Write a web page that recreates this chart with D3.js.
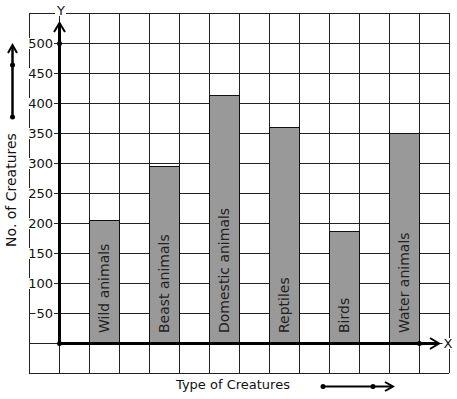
<!DOCTYPE html>
<html>
<head>
<meta charset="utf-8">
<script src="https://cdn.jsdelivr.net/npm/d3@7"></script>
<style>
  body { margin: 0; background: #fff; }
  text { font-family: "DejaVu Sans", sans-serif; font-size: 13px; }
</style>
</head>
<body>
<svg id="chart"></svg>
<script>
// dados do grafico
const creatures = ["Wild animals", "Beast animals", "Domestic animals", "Reptiles", "Birds", "Water animals"]
const counts = [205, 295, 413, 360, 187, 350]
const yTicks = [50, 100, 150, 200, 250, 300, 350, 400, 450, 500]

const width = 457
const height = 399

var svg = d3.select("#chart")
    .attr("width", width)
    .attr("height", height)

// escalas: a grade eh feita em "celulas" de 30px
var y = d3.scaleLinear().domain([0, 500]).range([343, 43])
var cell = d3.scaleLinear().domain([0, 14]).range([29, 449])
var x = d3.scaleBand()
    .domain(creatures)
    .range([89, 419])
    .paddingInner(0.5)
    .paddingOuter(0)

// grade
var grade = svg.append("g")
    .attr("stroke", "#222")
    .attr("stroke-width", 1)
    .attr("shape-rendering", "crispEdges")

grade.selectAll("line.v")
    .data(d3.range(0, 15))
    .join("line")
    .attr("class", "v")
    .attr("x1", d => cell(d) + 0.5).attr("x2", d => cell(d) + 0.5)
    .attr("y1", y(550)).attr("y2", y(-50))

grade.selectAll("line.h")
    .data(d3.range(-50, 551, 50))
    .join("line")
    .attr("class", "h")
    .attr("y1", d => y(d) + 0.5).attr("y2", d => y(d) + 0.5)
    .attr("x1", cell(0)).attr("x2", cell(14))

// barras
svg.append("g")
    .selectAll("rect")
    .data(creatures)
    .join("rect")
    .attr("x", d => x(d) + 0.5)
    .attr("y", (d, i) => y(counts[i]) + 0.5)
    .attr("width", x.bandwidth())
    .attr("height", (d, i) => y(0) - y(counts[i]))
    .style("fill", "#999999")
    .attr("stroke", "#111")
    .attr("stroke-width", 1)
    .attr("shape-rendering", "crispEdges")

// texto dentro das barras (um pouco maior que o resto)
svg.append("g")
    .selectAll("text")
    .data(creatures)
    .join("text")
    .attr("transform", d => "translate(" + (x(d) + x.bandwidth() / 2 + 5) + "," + 333 + ") rotate(-90)")
    .attr("text-anchor", "start")
    .style("font-size", "14px")
    .style("fill", "#222")
    .text(d => d)

// funcao pra texto com fundo branco (cobre a grade)
function textoComFundo(g, tx, ty, txt, anchor) {
    var t = g.append("text")
        .attr("x", tx).attr("y", ty)
        .attr("text-anchor", anchor)
        .style("fill", "#111")
        .text(txt)
    var b = t.node().getBBox()
    g.insert("rect", "text")
        .attr("x", b.x - 1).attr("y", b.y + 2)
        .attr("width", b.width + 2).attr("height", b.height - 4)
        .style("fill", "white")
    return t
}

// rotulos do eixo y
var rotulos = svg.append("g")
yTicks.forEach(function(v) {
    var g = rotulos.append("g")
    textoComFundo(g, 53, y(v) + 5, String(v), "end")
})

// eixos grossos
var eixos = svg.append("g").attr("stroke", "black").attr("fill", "none")
eixos.append("line")
    .attr("x1", cell(1) + 0.5).attr("x2", cell(1) + 0.5)
    .attr("y1", y(0)).attr("y2", 24)
    .attr("stroke-width", 3)
eixos.append("line")
    .attr("x1", cell(1)).attr("x2", 438)
    .attr("y1", y(0) + 0.5).attr("y2", y(0) + 0.5)
    .attr("stroke-width", 3)
// setas
eixos.append("path")
    .attr("d", "M54,32 L59.5,23 L65,32")
    .attr("stroke-width", 2)
eixos.append("path")
    .attr("d", "M430,338 L439,343.5 L430,349")
    .attr("stroke-width", 2)

// pontos nos eixos
svg.append("g")
    .selectAll("circle")
    .data([[cell(1) + 0.5, y(0) + 0.5], [cell(1) + 0.5, y(500) + 0.5], [cell(13) + 0.5, y(0) + 0.5]])
    .join("circle")
    .attr("cx", d => d[0]).attr("cy", d => d[1])
    .attr("r", 2.5)
    .style("fill", "black")

// letras X e Y
var letras = svg.append("g")
textoComFundo(letras.append("g"), 61, 15, "Y", "middle")
textoComFundo(letras.append("g"), 448, 348, "X", "middle")

// titulo do eixo y com seta
svg.append("text")
    .attr("transform", "translate(16,190) rotate(-90)")
    .attr("text-anchor", "middle")
    .style("font-size", "14px")
    .style("fill", "#111")
    .text("No. of Creatures")

var setaY = svg.append("g").attr("stroke", "black").attr("fill", "none")
setaY.append("line").attr("x1", 12.5).attr("x2", 12.5).attr("y1", 117).attr("y2", 46).attr("stroke-width", 2.5)
setaY.append("path").attr("d", "M8,53 L12.5,45 L17,53").attr("stroke-width", 2)
setaY.selectAll("circle").data([65, 117]).join("circle")
    .attr("cx", 12.5).attr("cy", d => d).attr("r", 2.5)
    .attr("stroke", "none").style("fill", "black")

// titulo do eixo x com seta
svg.append("text")
    .attr("x", 176).attr("y", 389)
    .style("fill", "#111")
    .text("Type of Creatures")

var setaX = svg.append("g").attr("stroke", "black").attr("fill", "none")
setaX.append("line").attr("x1", 323).attr("x2", 392).attr("y1", 386.5).attr("y2", 386.5).attr("stroke-width", 2)
setaX.append("path").attr("d", "M385,382 L393,386.5 L385,391").attr("stroke-width", 2)
setaX.selectAll("circle").data([323, 373]).join("circle")
    .attr("cx", d => d).attr("cy", 386.5).attr("r", 2.5)
    .attr("stroke", "none").style("fill", "black")
</script>
</body>
</html>
